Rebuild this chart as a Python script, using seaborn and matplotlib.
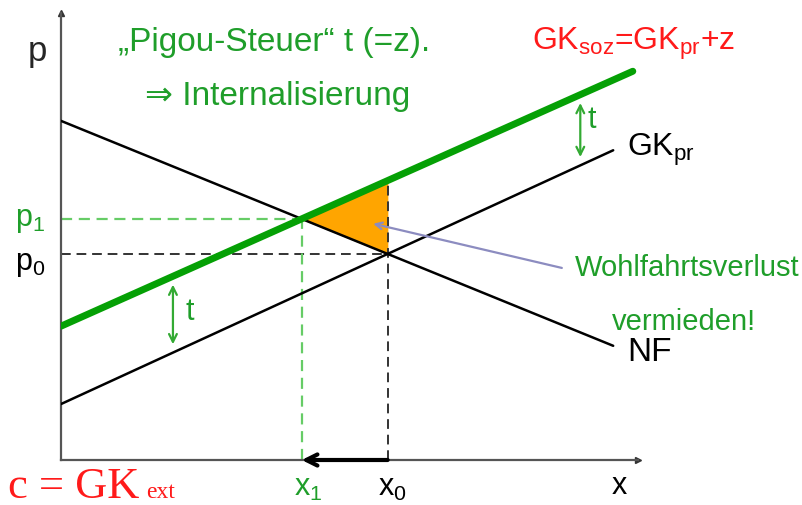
import matplotlib
matplotlib.use("Agg")
import matplotlib.pyplot as plt
import numpy as np
import seaborn as sns

# Curves (quantity x, price p)
x_nf = [0.0, 9.57]
p_nf = [5.88, 1.98]
x_gk_pr = [0.0, 9.57]
p_gk_pr = [0.97, 5.37]
x_gk_soz = [0.0, 9.91]
p_gk_soz = [2.32, 6.74]

# positions of the "t" markers between GK_pr and GK_soz
t_marks = [1.94, 9.0]

W, H = 802, 506
GREEN_TXT = "#1f9e2a"
GREEN_LINE = "#05a005"
RED = "#ff1a1a"

sns.set_theme(style="white")
plt.rcParams["font.family"] = ["Liberation Sans", "DejaVu Sans"]
plt.rcParams["mathtext.default"] = "regular"


def line_fn(xs, ps):
    slope = (ps[1] - ps[0]) / (xs[1] - xs[0])
    return lambda x: ps[0] + slope * (x - xs[0])


def cross(xa, pa, xb, pb):
    fa, fb = line_fn(xa, pa), line_fn(xb, pb)
    sa = fa(1) - fa(0)
    sb = fb(1) - fb(0)
    x = (fb(0) - fa(0)) / (sa - sb)
    return x, fa(x)


nf = line_fn(x_nf, p_nf)
gk_pr = line_fn(x_gk_pr, p_gk_pr)
gk_soz = line_fn(x_gk_soz, p_gk_soz)
x0, p0 = cross(x_nf, p_nf, x_gk_pr, p_gk_pr)
x1, p1 = cross(x_nf, p_nf, x_gk_soz, p_gk_soz)


def px(x, y):
    return x / W, 1 - y / H


fig = plt.figure(figsize=(W / 100, H / 100), dpi=100)
ax = fig.add_axes([61 / W, (H - 461) / H, (638 - 61) / W, (461 - 14) / H])
ax.set_xlim(0, 10)
ax.set_ylim(0, 7.75)
ax.set_xticks([])
ax.set_yticks([])
for s in ["top", "right"]:
    ax.spines[s].set_visible(False)
for s in ["left", "bottom"]:
    ax.spines[s].set_color("#555555")
    ax.spines[s].set_linewidth(1.6)
ax.plot([1], [0], marker=">", ms=5, color="#333333", transform=ax.transAxes, clip_on=False)
ax.plot([0], [1], marker="^", ms=5, color="#333333", transform=ax.transAxes, clip_on=False)

# welfare loss triangle
ax.fill([x1, x0, x0], [p1, gk_soz(x0), p0], color="#ffa500", zorder=1)

# guide lines
dash = (0, (5, 3))
ax.plot([0, x0], [p0, p0], color="#333333", lw=1.4, ls=dash, zorder=2)
ax.plot([x0, x0], [0, gk_soz(x0)], color="#333333", lw=1.4, ls=dash, zorder=2)
ax.plot([0, x1], [p1, p1], color="#66cc66", lw=1.6, ls=dash, zorder=2)
ax.plot([x1, x1], [0, p1], color="#66cc66", lw=1.6, ls=dash, zorder=2)

# curves
sns.lineplot(x=x_nf, y=p_nf, ax=ax, color="black", lw=1.8, zorder=3)
sns.lineplot(x=x_gk_pr, y=p_gk_pr, ax=ax, color="black", lw=1.8, zorder=3)
sns.lineplot(x=x_gk_soz, y=p_gk_soz, ax=ax, color=GREEN_LINE, lw=5, zorder=4)

# tax arrows
for xt in t_marks:
    ax.annotate("", xy=(xt, gk_soz(xt)), xytext=(xt, gk_pr(xt)),
                arrowprops=dict(arrowstyle="<->", color="#33aa33", lw=1.6,
                                shrinkA=6, shrinkB=6, mutation_scale=14))

# quantity reduction arrow on the x axis
ax.annotate("", xy=(x1, 0), xytext=(x0, 0), annotation_clip=False,
            arrowprops=dict(arrowstyle="->", color="black", lw=3,
                            shrinkA=0, shrinkB=0, mutation_scale=20))

# pointer to the welfare loss
ax.annotate("", xy=(x0 - 0.25, (p1 + p0) / 2 + 0.22), xytext=(8.68, 3.33),
            arrowprops=dict(arrowstyle="->", color="#8c8cc0", lw=1.6,
                            shrinkA=0, shrinkB=0, mutation_scale=12))

# texts
fig.text(*px(28, 52), "p", fontsize=25, va="center", ha="left")
fig.text(*px(118, 43), "„Pigou-Steuer“ t (=z).", fontsize=24, color=GREEN_TXT, va="center")
fig.text(*px(145, 97), "⇒ Internalisierung", fontsize=24, color=GREEN_TXT, va="center")
fig.text(*px(532, 50), "GK$_{soz}$=GK$_{pr}$+z", fontsize=23, color=RED, va="baseline")
fig.text(*px(588, 120), "t", fontsize=22, color=GREEN_TXT, va="center")
fig.text(*px(627, 150), "GK$_{pr}$", fontsize=23, color="black", va="center")
fig.text(*px(186, 312), "t", fontsize=22, color=GREEN_TXT, va="center")
fig.text(*px(575, 268), "Wohlfahrtsverlust", fontsize=21, color=GREEN_TXT, va="center")
fig.text(*px(612, 322), "vermieden!", fontsize=21, color=GREEN_TXT, va="center")
fig.text(*px(627, 353), "NF", fontsize=24, color="black", va="center")
fig.text(*px(15, 220), "p$_1$", fontsize=22, color=GREEN_TXT, va="center")
fig.text(*px(15, 264), "p$_0$", fontsize=22, color="black", va="center")
fig.text(*px(294, 488), "x$_1$", fontsize=22, color=GREEN_TXT, va="center")
fig.text(*px(378, 488), "x$_0$", fontsize=22, color="black", va="center")
fig.text(*px(612, 486), "x", fontsize=22, color="black", va="center")
fig.text(*px(8, 498), "c = GK", fontsize=32, color=RED, va="baseline",
         family="Liberation Serif")
fig.text(*px(146, 498), "ext", fontsize=17, color=RED, va="baseline",
         family="Liberation Serif")

fig.savefig("out.png", dpi=100)
